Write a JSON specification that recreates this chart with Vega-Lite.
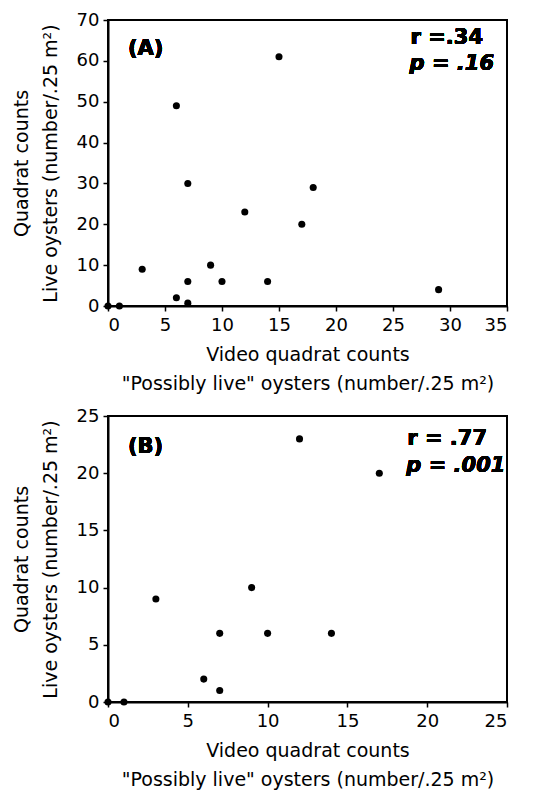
{
  "$schema": "https://vega.github.io/schema/vega-lite/v6.json",
  "background": "white",
  "padding": {"left": 11, "top": 10, "right": 5, "bottom": 5},
  "datasets": {
    "A": [
      {"video": 0, "quadrat": 0}, {"video": 1, "quadrat": 0}, {"video": 3, "quadrat": 9},
      {"video": 6, "quadrat": 2}, {"video": 7, "quadrat": 0.7}, {"video": 6, "quadrat": 49},
      {"video": 7, "quadrat": 30}, {"video": 7, "quadrat": 6}, {"video": 9, "quadrat": 10},
      {"video": 10, "quadrat": 6}, {"video": 12, "quadrat": 23}, {"video": 14, "quadrat": 6},
      {"video": 15, "quadrat": 61}, {"video": 17, "quadrat": 20}, {"video": 18, "quadrat": 29},
      {"video": 29, "quadrat": 4}
    ],
    "B": [
      {"video": 0, "quadrat": 0}, {"video": 1, "quadrat": 0}, {"video": 3, "quadrat": 9},
      {"video": 6, "quadrat": 2}, {"video": 7, "quadrat": 1}, {"video": 7, "quadrat": 6},
      {"video": 9, "quadrat": 10}, {"video": 10, "quadrat": 6}, {"video": 12, "quadrat": 23},
      {"video": 14, "quadrat": 6}, {"video": 17, "quadrat": 20}
    ]
  },
  "spacing": 12,
  "vconcat": [
    {
      "width": 399,
      "height": 286,
      "data": {"name": "A"},
      "layer": [
        {
          "mark": {"type": "point", "filled": true, "size": 50, "color": "black", "opacity": 1, "clip": false},
          "encoding": {
            "x": {"field": "video", "type": "quantitative",
              "scale": {"domain": [0, 35], "nice": false, "zero": true},
              "axis": {"values": [0, 5, 10, 15, 20, 25, 30, 35],
                "title": ["Video quadrat counts", "\"Possibly live\" oysters (number/.25 m²)"]}},
            "y": {"field": "quadrat", "type": "quantitative",
              "scale": {"domain": [0, 70], "nice": false},
              "axis": {"values": [0, 10, 20, 30, 40, 50, 60, 70],
                "title": ["Quadrat counts", "Live oysters (number/.25 m²)"]}}
          }
        },
        {
          "mark": {"type": "text", "text": "(A)", "color": "black", "font": "DejaVu Sans", "fontWeight": "bold", "fontSize": 21, "align": "left", "baseline": "middle"},
          "encoding": {"x": {"datum": 1.75, "type": "quantitative"}, "y": {"datum": 62.9, "type": "quantitative"}}
        },
        {
          "mark": {"type": "text", "text": "r =.34", "color": "black", "font": "DejaVu Sans", "fontWeight": "bold", "fontSize": 21, "align": "right", "baseline": "middle"},
          "encoding": {"x": {"datum": 32.9, "type": "quantitative"}, "y": {"datum": 65.6, "type": "quantitative"}}
        },
        {
          "mark": {"type": "text", "text": "p = .16", "color": "black", "font": "DejaVu Sans", "fontWeight": "bold", "fontStyle": "italic", "fontSize": 21, "align": "right", "baseline": "middle"},
          "encoding": {"x": {"datum": 33.86, "type": "quantitative"}, "y": {"datum": 59.2, "type": "quantitative"}}
        }
      ]
    },
    {
      "width": 399,
      "height": 286,
      "data": {"name": "B"},
      "layer": [
        {
          "mark": {"type": "point", "filled": true, "size": 50, "color": "black", "opacity": 1, "clip": false},
          "encoding": {
            "x": {"field": "video", "type": "quantitative",
              "scale": {"domain": [0, 25], "nice": false},
              "axis": {"values": [0, 5, 10, 15, 20, 25],
                "title": ["Video quadrat counts", "\"Possibly live\" oysters (number/.25 m²)"]}},
            "y": {"field": "quadrat", "type": "quantitative",
              "scale": {"domain": [0, 25], "nice": false},
              "axis": {"values": [0, 5, 10, 15, 20, 25],
                "title": ["Quadrat counts", "Live oysters (number/.25 m²)"]}}
          }
        },
        {
          "mark": {"type": "text", "text": "(B)", "color": "black", "font": "DejaVu Sans", "fontWeight": "bold", "fontSize": 21, "align": "left", "baseline": "middle"},
          "encoding": {"x": {"datum": 1.25, "type": "quantitative"}, "y": {"datum": 22.3, "type": "quantitative"}}
        },
        {
          "mark": {"type": "text", "text": "r = .77", "color": "black", "font": "DejaVu Sans", "fontWeight": "bold", "fontSize": 21, "align": "right", "baseline": "middle"},
          "encoding": {"x": {"datum": 23.75, "type": "quantitative"}, "y": {"datum": 23.0, "type": "quantitative"}}
        },
        {
          "mark": {"type": "text", "text": "p = .001", "color": "black", "font": "DejaVu Sans", "fontWeight": "bold", "fontStyle": "italic", "fontSize": 21, "align": "right", "baseline": "middle"},
          "encoding": {"x": {"datum": 24.9, "type": "quantitative"}, "y": {"datum": 20.6, "type": "quantitative"}}
        }
      ]
    }
  ],
  "config": {
    "font": "DejaVu Sans",
    "view": {"stroke": "black", "strokeWidth": 2},
    "axis": {
      "grid": false,
      "domainColor": "black",
      "domainWidth": 2,
      "tickColor": "black",
      "tickWidth": 1.5,
      "tickSize": 5,
      "labelFont": "DejaVu Sans",
      "labelFontSize": 18,
      "labelColor": "black",
      "labelPadding": 4,
      "titleFont": "DejaVu Sans",
      "titleFontSize": 19,
      "titleFontWeight": "normal",
      "titleColor": "black",
      "titleLineHeight": 29
    },
    "axisX": {"titlePadding": 11, "labelPadding": 5},
    "axisY": {"titlePadding": 16}
  }
}
